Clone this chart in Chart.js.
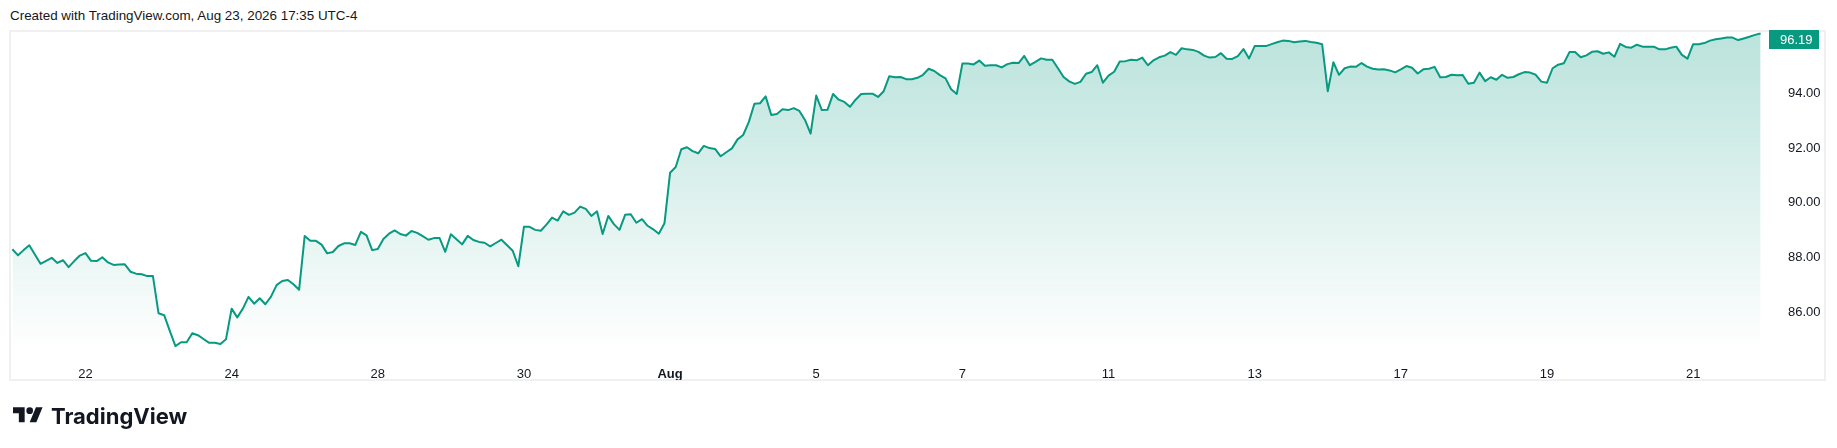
<!DOCTYPE html>
<html>
<head>
<meta charset="utf-8">
<script src="https://cdn.jsdelivr.net/npm/chart.js@4"></script>
<style>
  html, body { margin: 0; padding: 0; background: #fff; }
  body { width: 1837px; height: 448px; position: relative; overflow: hidden; font-family: "Liberation Sans", Arial, sans-serif; color: #131722; }
  #header { position: absolute; left: 10px; top: 7px; font-size: 13.4px; line-height: 17px; }
  #frame { position: absolute; left: 9px; top: 30px; width: 1813px; height: 347px; border: 2px solid #f0f0f0; }
  #chart { position: absolute; left: 0; top: 0; }
  #logo { position: absolute; left: 13px; top: 403px; height: 26px; display: flex; align-items: center; }
  #logo svg { display: block; }
  #logo span { font-family: Inter, Roboto, sans-serif; font-weight: 700; font-size: 22px; margin-left: 8px; line-height: 26px; }
</style>
</head>
<body>
<div id="header">Created with TradingView.com, Aug 23, 2026 17:35 UTC-4</div>
<div id="frame"></div>
<canvas id="chart" width="1837" height="448"></canvas>
<div id="logo">
  <svg width="30" height="19" viewBox="0 0 36 22"><path fill="#131722" d="M14 18H7V7H0V0h14v18zM28 18h-8l7.5-18h8L28 18z"/><circle fill="#131722" cx="20" cy="4" r="4"/></svg>
  <span>TradingView</span>
</div>
<script>
// 30 min bars, Jul 21 -> Aug 21 (13 bars per session)
const values = [
  88.30, 88.08, 88.27, 88.45, 88.11, 87.77, 87.88, 87.99, 87.80, 87.90, 87.65, 87.87, 88.07,
  88.16, 87.88, 87.87, 88.01, 87.82, 87.73, 87.74, 87.75, 87.48, 87.41, 87.39, 87.32, 87.32,
  85.96, 85.89, 85.32, 84.76, 84.90, 84.90, 85.23, 85.16, 85.02, 84.88, 84.88, 84.84, 85.01,
  86.13, 85.81, 86.13, 86.56, 86.31, 86.51, 86.29, 86.57, 86.99, 87.14, 87.18, 87.02, 86.82,
  88.79, 88.61, 88.61, 88.47, 88.15, 88.20, 88.42, 88.52, 88.52, 88.46, 88.94, 88.81, 88.27,
  88.31, 88.68, 88.87, 88.99, 88.86, 88.80, 88.97, 88.90, 88.78, 88.65, 88.71, 88.71, 88.21,
  88.85, 88.67, 88.48, 88.79, 88.64, 88.57, 88.54, 88.41, 88.53, 88.65, 88.45, 88.25, 87.68,
  89.12, 89.12, 89.01, 88.98, 89.20, 89.46, 89.35, 89.69, 89.56, 89.64, 89.86, 89.78, 89.52,
  89.69, 88.86, 89.52, 89.22, 89.01, 89.56, 89.58, 89.27, 89.40, 89.16, 89.03, 88.87, 89.25,
  91.10, 91.31, 91.96, 92.03, 91.89, 91.81, 92.08, 92.00, 91.97, 91.70, 91.85, 91.99, 92.32,
  92.48, 92.95, 93.62, 93.64, 93.89, 93.21, 93.25, 93.42, 93.39, 93.46, 93.36, 93.03, 92.53,
  93.92, 93.39, 93.40, 93.98, 93.77, 93.69, 93.51, 93.77, 93.98, 93.99, 93.99, 93.87, 94.08,
  94.63, 94.59, 94.60, 94.52, 94.52, 94.57, 94.68, 94.90, 94.82, 94.67, 94.55, 94.15, 93.98,
  95.09, 95.09, 95.06, 95.20, 95.01, 95.03, 95.03, 94.95, 95.07, 95.12, 95.11, 95.37, 95.03,
  95.15, 95.28, 95.23, 95.23, 94.92, 94.60, 94.44, 94.35, 94.42, 94.72, 94.78, 95.03, 94.39,
  94.65, 94.79, 95.17, 95.18, 95.23, 95.21, 95.31, 95.03, 95.21, 95.32, 95.38, 95.51, 95.41,
  95.65, 95.61, 95.59, 95.52, 95.38, 95.31, 95.33, 95.47, 95.27, 95.26, 95.36, 95.62, 95.28,
  95.73, 95.73, 95.73, 95.80, 95.87, 95.93, 95.92, 95.87, 95.90, 95.92, 95.88, 95.85, 95.80,
  94.08, 95.14, 94.68, 94.92, 94.98, 94.97, 95.11, 94.98, 94.90, 94.87, 94.88, 94.84, 94.77,
  94.88, 95.00, 94.94, 94.73, 94.88, 94.90, 94.97, 94.59, 94.60, 94.68, 94.66, 94.67, 94.35,
  94.39, 94.76, 94.45, 94.59, 94.50, 94.68, 94.57, 94.60, 94.70, 94.78, 94.76, 94.68, 94.43,
  94.39, 94.92, 95.05, 95.10, 95.51, 95.51, 95.32, 95.39, 95.52, 95.54, 95.45, 95.50, 95.34,
  95.81, 95.70, 95.67, 95.78, 95.71, 95.71, 95.71, 95.61, 95.61, 95.67, 95.71, 95.41, 95.27,
  95.80, 95.80, 95.84, 95.93, 95.98, 96.01, 96.04, 96.04, 95.95, 96.01, 96.07, 96.14, 96.19
];

// bar index where each date label sits
const xTickIdx = [13, 39, 65, 91, 117, 143, 169, 195, 221, 247, 273, 299];
const xTickLabels = ['22', '24', '28', '30', 'Aug', '5', '7', '11', '13', '17', '19', '21'];
const yTicks = [86, 88, 90, 92, 94];

const lineColor = '#089981';
const points = values.map((v, i) => ({ x: i, y: v }));

// last price box on the right axis
const priceLabel = {
  id: 'priceLabel',
  afterDraw(chart) {
    const { ctx, chartArea, scales } = chart;
    const last = values[values.length - 1];
    const h = 19;
    const top = Math.max(scales.y.getPixelForValue(last) - h / 2, 30);
    ctx.save();
    ctx.fillStyle = lineColor;
    ctx.fillRect(chartArea.right + 7, top, 50, h);
    ctx.fillStyle = '#ffffff';
    ctx.font = '13px "Liberation Sans"';
    ctx.textBaseline = 'middle';
    ctx.textAlign = 'left';
    ctx.fillText(last.toFixed(2), chartArea.right + 18, top + h / 2 + 0.5);
    ctx.restore();
  }
};

new Chart(document.getElementById('chart'), {
  type: 'line',
  data: {
    datasets: [{
      data: points,
      borderColor: lineColor,
      borderWidth: 2,
      borderJoinStyle: 'round',
      pointRadius: 0,
      tension: 0,
      fill: 'start',
      backgroundColor: (c) => {
        const area = c.chart.chartArea;
        if (!area) return 'rgba(8,153,129,0.15)';
        const g = c.chart.ctx.createLinearGradient(0, area.top, 0, area.bottom);
        g.addColorStop(0, 'rgba(8,153,129,0.28)');
        g.addColorStop(1, 'rgba(8,153,129,0)');
        return g;
      }
    }]
  },
  options: {
    responsive: false,
    animation: false,
    layout: { padding: { left: 11, top: 32, right: 11, bottom: 68 } },
    plugins: { legend: { display: false }, tooltip: { enabled: false } },
    scales: {
      x: {
        type: 'linear',
        min: -0.25,
        max: 311.25,
        grid: { display: false },
        border: { display: false },
        afterBuildTicks: (s) => { s.ticks = xTickIdx.map(v => ({ value: v })); },
        afterFit: (s) => { s.height = 28; },
        ticks: {
          autoSkip: false,
          maxRotation: 0,
          padding: 7,
          color: '#131722',
          font: (c) => ({
            family: 'Liberation Sans',
            size: 13,
            weight: (c.tick && xTickLabels[xTickIdx.indexOf(c.tick.value)] === 'Aug') ? 'bold' : 'normal'
          }),
          callback: (v) => {
            const k = xTickIdx.indexOf(v);
            return k < 0 ? '' : xTickLabels[k];
          }
        }
      },
      y: {
        position: 'right',
        min: 84.545,
        max: 96.245,
        grid: { display: false },
        border: { display: false },
        afterBuildTicks: (s) => { s.ticks = yTicks.map(v => ({ value: v })); },
        afterFit: (s) => { s.width = 64; },
        ticks: {
          padding: 18,
          color: '#131722',
          font: { family: 'Liberation Sans', size: 13 },
          callback: (v) => v.toFixed(2)
        }
      }
    }
  },
  plugins: [priceLabel]
});
</script>
</body>
</html>
